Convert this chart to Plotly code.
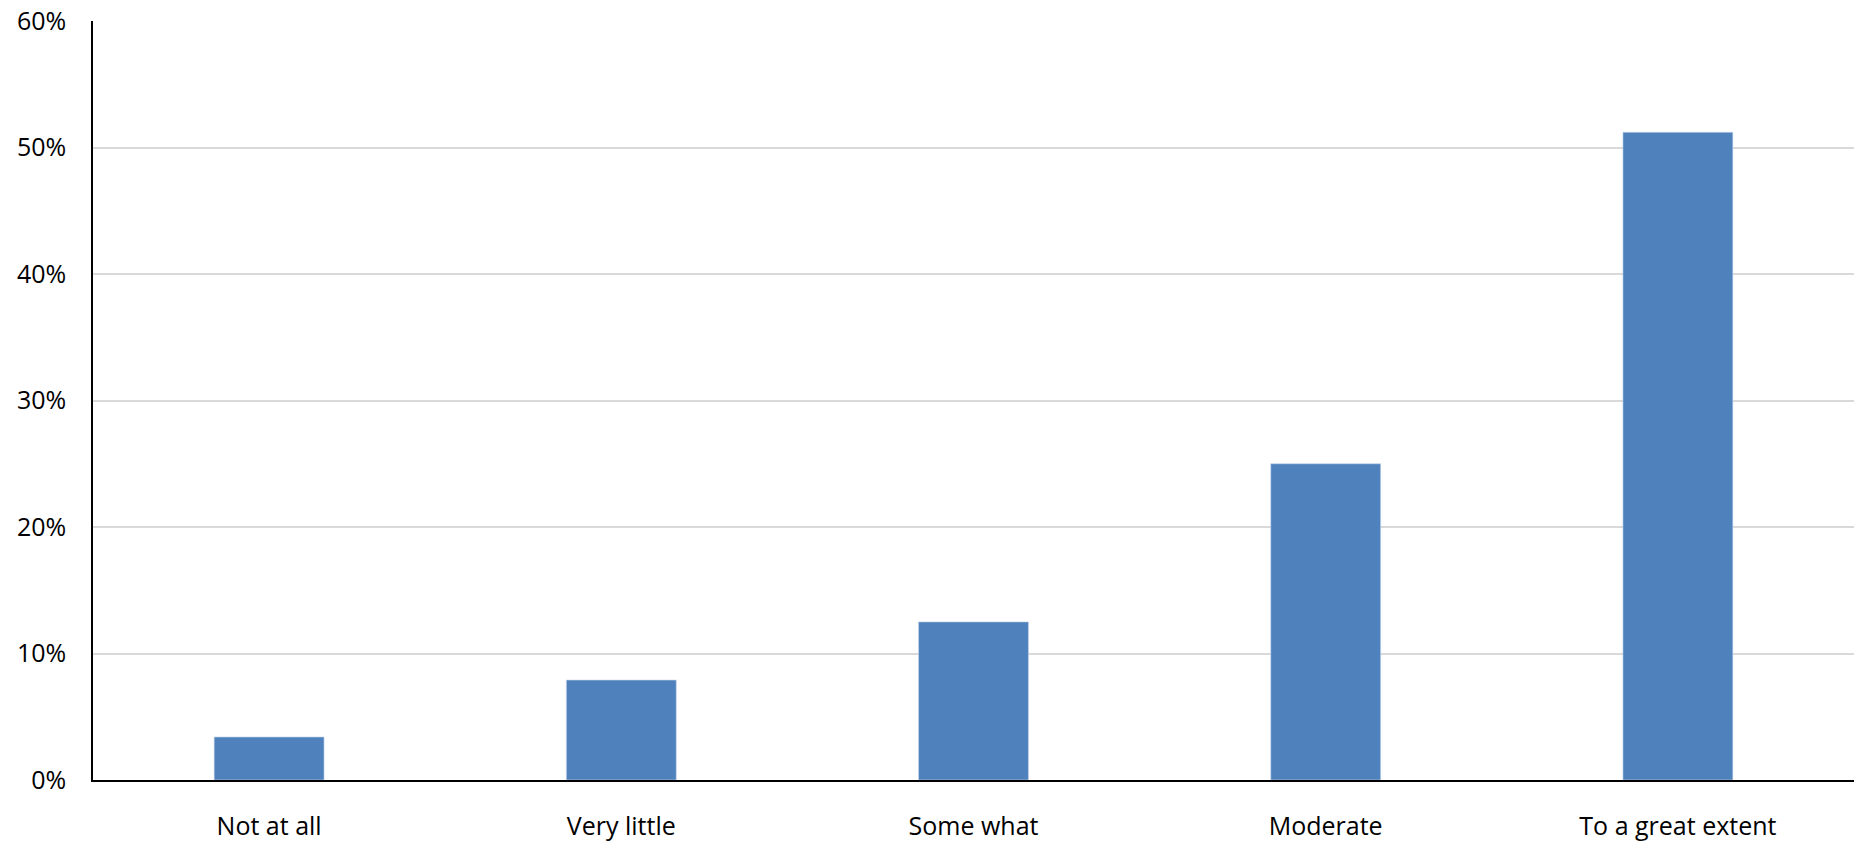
import plotly.graph_objects as go

categories = ["Not at all", "Very little", "Some what", "Moderate", "To a great extent"]
values = [0.034, 0.079, 0.125, 0.250, 0.512]
y_ticks = [0, 0.1, 0.2, 0.3, 0.4, 0.5, 0.6]
y_tick_labels = ["0%", "10%", "20%", "30%", "40%", "50%", "60%"]

fig = go.Figure(go.Bar(
    x=categories, y=values,
    marker=dict(color="#4F81BD", line=dict(color="#C6D5EA", width=0.6)),
    hoverinfo="x+y",
))

fig.update_layout(
    width=1864, height=842,
    paper_bgcolor="white", plot_bgcolor="white",
    margin=dict(l=93, r=10, t=21, b=62, autoexpand=False),
    bargap=0.688,
    showlegend=False,
    font=dict(family="Open Sans", size=25, color="black"),
)
fig.update_yaxes(
    range=[0, 0.6], tickvals=y_ticks, ticktext=y_tick_labels,
    showgrid=True, gridcolor="#D9D9D9", gridwidth=1.5,
    showline=True, linecolor="black", linewidth=1.5,
    ticks="outside", ticklen=20, tickcolor="rgba(0,0,0,0)",
    zeroline=False, automargin=False,
)
fig.update_xaxes(
    showline=True, linecolor="black", linewidth=1.5,
    ticks="outside", ticklen=23, tickcolor="rgba(0,0,0,0)",
    showgrid=False, automargin=False,
)

fig.write_html(
    "out.html",
    config={"displayModeBar": False},
    post_script="document.body.style.margin='0';document.body.style.overflow='hidden';",
)
